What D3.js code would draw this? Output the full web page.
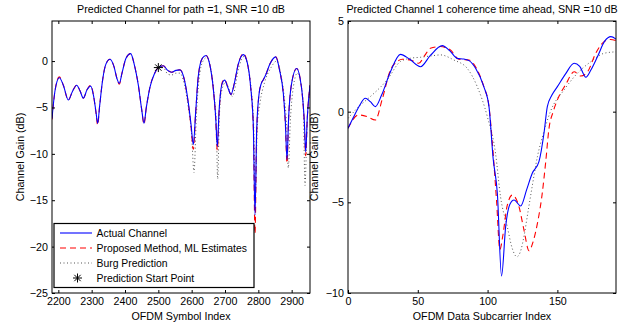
<!DOCTYPE html>
<html>
<head>
<meta charset="utf-8">
<script src="https://cdn.jsdelivr.net/npm/d3@7"></script>
<style>
  body { margin: 0; background: #fff; }
  svg { font-family: "Liberation Sans", Arial, sans-serif; }
  .tick text { font-size: 10.7px; fill: #000; }
  .tick line { stroke: #000; }
</style>
</head>
<body>
<svg id="chart" width="627" height="328"></svg>
<script>
// left panel: prediction along OFDM symbols
const leftX = [2181, 2190, 2203, 2215, 2230, 2242, 2255, 2265, 2275, 2286, 2297, 2306, 2313, 2318, 2324, 2333, 2343, 2355, 2367, 2376,
  2383, 2391, 2403, 2417, 2428, 2440, 2450, 2457, 2464, 2475, 2488, 2500, 2515, 2528, 2540, 2553, 2565, 2578, 2590, 2598,
  2605, 2612, 2620, 2632, 2643, 2655, 2665, 2672, 2677, 2682, 2688, 2694, 2699, 2709, 2718, 2728, 2740, 2755, 2767, 2777,
  2785, 2790, 2795, 2802, 2809, 2815, 2822, 2835, 2852, 2865, 2875, 2881, 2886, 2891, 2899, 2915, 2925, 2933, 2938, 2942,
  2947, 2955];
const leftActual = [-6.2, -3.2, -1.8, -2.6, -4.2, -3.3, -2.6, -3.2, -4.0, -3.1, -2.7, -3.8, -5.5, -6.7, -4.8, -2.0, -0.3, 0.2, -0.6, -1.9,
  -2.4, -1.3, 0.3, 0.8, -0.4, -2.6, -5.2, -6.7, -5.0, -2.8, -1.4, -0.7, -0.5, -1.0, -1.2, -1.0, -0.95, -2.0, -4.5, -6.8,
  -9.0, -5.5, -1.6, 0.3, 0.6, -0.5, -3.0, -6.0, -9.2, -5.5, -3.0, -2.2, -2.05, -2.9, -3.6, -2.4, -0.3, 0.7, -0.2, -2.8,
  -7.0, -16.6, -7.5, -3.6, -2.4, -2.0, -1.5, -0.3, 0.45, -1.2, -3.5, -6.5, -10.6, -6.0, -2.6, -0.8, -1.8, -4.0, -6.5, -9.8,
  -6.0, -2.6];
const leftProposed = [-6.3, -3.2, -1.7, -2.6, -4.2, -3.3, -2.6, -3.2, -4.0, -3.1, -2.6, -3.8, -5.6, -6.9, -4.8, -2.0, -0.3, 0.2, -0.6, -1.9,
  -2.5, -1.3, 0.3, 0.8, -0.4, -2.6, -5.2, -6.8, -5.0, -2.8, -1.4, -0.7, -0.5, -1.0, -1.2, -1.0, -0.95, -2.0, -4.6, -7.0,
  -9.5, -5.6, -1.6, 0.3, 0.6, -0.5, -3.0, -6.2, -9.6, -5.6, -3.0, -2.1, -2.0, -2.9, -3.6, -2.4, -0.3, 0.8, -0.2, -2.9,
  -7.3, -18.6, -7.8, -3.6, -2.4, -2.0, -1.5, -0.3, 0.45, -1.2, -3.6, -6.7, -11.0, -6.1, -2.6, -0.8, -1.8, -4.1, -6.7, -10.2,
  -6.1, -2.6];
const leftBurgX = [2500, 2515, 2528, 2540, 2553, 2565, 2578, 2590, 2600, 2607, 2614, 2622, 2634, 2646, 2657, 2667, 2674, 2678, 2683, 2690,
  2702, 2722, 2742, 2757, 2769, 2779, 2786, 2791, 2797, 2805, 2818, 2838, 2855, 2868, 2878, 2885, 2890, 2896, 2905, 2917,
  2928, 2935, 2940, 2946, 2955];
const leftBurg = [-0.7, -0.7, -1.4, -1.5, -1.3, -1.3, -2.5, -5.0, -8.0, -12.0, -6.0, -2.0, 0.0, 0.4, -0.8, -3.5, -7.0, -12.7, -6.0, -3.2,
  -2.3, -3.8, -0.6, 0.5, -0.6, -3.2, -7.0, -14.0, -7.0, -4.5, -2.4, -0.7, 0.0, -1.5, -4.0, -7.0, -11.5, -6.5, -2.8, -1.3,
  -2.5, -5.0, -13.4, -7.0, -3.0];
const startPoint = [2500, -0.7];
const leftXTicks = [2200, 2300, 2400, 2500, 2600, 2700, 2800, 2900];
const leftYTicks = [-25, -20, -15, -10, -5, 0];

// right panel: prediction across subcarriers
const rightActualX = [0, 4, 8, 12.4, 16, 19.6, 24, 30.4, 37.6, 44, 51.9, 59, 67.5, 73, 78.2, 83, 87, 91.4, 97.3, 101,
  104, 107, 110, 113, 116, 119, 123.7, 128, 132, 136.8, 140.4, 142.8, 146, 150, 156, 162, 166, 170.4, 174, 178.7,
  184, 188.3, 192];
const rightActual = [-0.92, -0.3, 0.3, 0.74, 0.55, 0.28, 0.9, 2.2, 3.16, 2.9, 2.48, 3.1, 3.64, 3.35, 2.94, 2.9, 2.8, 2.39, 1.38, 0.28,
  -2.6, -4.5, -9.06, -6.3, -5.1, -4.87, -5.2, -4.3, -3.4, -2.76, -1.19, 0.28, 0.9, 1.38, 2.1, 2.67, 2.5, 1.9, 2.3, 3.03,
  3.9, 4.14, 4.0];
const rightProposedX = [0, 7.6, 13.6, 19.6, 24.4, 30.4, 35, 38.8, 44.7, 50.7, 55, 59, 66, 73.4, 79.4, 86.6, 92.6, 97.3, 101, 104,
  106.5, 108.8, 111, 114, 117.7, 122.5, 126, 129.7, 132.5, 135.7, 139, 141.6, 144, 147, 150, 156, 162, 166.8, 171.6, 177.5,
  183.5, 188, 192];
const rightProposed = [-0.92, -0.18, -0.27, -0.46, 0.65, 2.3, 2.75, 2.89, 2.85, 2.67, 3.1, 3.5, 3.59, 3.4, 2.89, 2.85, 2.3, 1.38, 0.28, -2.3,
  -5.0, -7.6, -6.8, -5.2, -4.6, -5.24, -6.5, -7.67, -7.2, -6.16, -4.6, -2.8, -0.92, 0.0, 0.65, 1.5, 2.2, 1.97, 2.2, 3.22,
  3.86, 3.98, 3.92];
const rightBurgX = [0, 8, 16, 28, 37.5, 45, 51.9, 60, 66.3, 75.8, 85.4, 92.6, 99.8, 105.7, 109.3, 114.1, 117.5, 121, 124, 126,
  129, 132, 135.7, 140, 145, 154.8, 164.4, 174, 183.5, 192];
const rightBurg = [-0.37, 0.3, 0.83, 1.75, 2.76, 2.95, 3.0, 3.08, 3.13, 2.85, 2.39, 1.38, -0.27, -2.3, -4.7, -6.34, -7.5, -8.0, -7.6, -6.9,
  -5.5, -4.1, -2.48, -1.2, 0, 1.2, 2.12, 2.76, 3.22, 3.3];
const rightXTicks = [0, 50, 100, 150];
const rightYTicks = [-10, -5, 0, 5];

const legendLabels = ["Actual Channel", "Proposed Method, ML Estimates", "Burg Prediction", "Prediction Start Point"];

const svg = d3.select("#chart");

function zip(xs, ys) {
    return xs.map((x, i) => [x, ys[i]]);
}

function makePanel(opts) {
    const x = d3.scaleLinear().domain(opts.xDomain).range([opts.left, opts.right]);
    const y = d3.scaleLinear().domain(opts.yDomain).range([opts.bottom, opts.top]);
    const g = svg.append("g");

    g.append("clipPath").attr("id", opts.id + "-clip")
        .append("rect")
        .attr("x", opts.left).attr("y", opts.top)
        .attr("width", opts.right - opts.left).attr("height", opts.bottom - opts.top);

    const plot = g.append("g").attr("clip-path", "url(#" + opts.id + "-clip)");
    const line = d3.line().x(d => x(d[0])).y(d => y(d[1])).curve(d3.curveMonotoneX);

    plot.append("path").datum(opts.burg)
        .attr("d", line).attr("fill", "none")
        .attr("stroke", "#555").attr("stroke-width", 1).attr("stroke-dasharray", "1,2.5");
    plot.append("path").datum(opts.proposed)
        .attr("d", line).attr("fill", "none")
        .attr("stroke", "#ff0000").attr("stroke-width", 1.1).attr("stroke-dasharray", "6,4");
    plot.append("path").datum(opts.actual)
        .attr("d", line).attr("fill", "none")
        .attr("stroke", "#0000ff").attr("stroke-width", 1.1);

    // ticks inside the box on all four sides
    g.append("g").attr("transform", "translate(0," + opts.bottom + ")")
        .call(d3.axisBottom(x).tickValues(opts.xTicks).tickSizeInner(-3).tickSizeOuter(0).tickPadding(4)
            .tickFormat(d3.format("d")))
        .call(a => a.select(".domain").remove());
    g.append("g").attr("transform", "translate(0," + opts.top + ")")
        .call(d3.axisTop(x).tickValues(opts.xTicks).tickSizeInner(-3).tickSizeOuter(0).tickFormat(""))
        .call(a => a.select(".domain").remove());
    g.append("g").attr("transform", "translate(" + opts.left + ",0)")
        .call(d3.axisLeft(y).tickValues(opts.yTicks).tickSizeInner(-3).tickSizeOuter(0).tickPadding(4)
            .tickFormat(d => d < 0 ? "\u2212" + Math.abs(d) : d))
        .call(a => a.select(".domain").remove());
    g.append("g").attr("transform", "translate(" + opts.right + ",0)")
        .call(d3.axisRight(y).tickValues(opts.yTicks).tickSizeInner(-3).tickSizeOuter(0).tickFormat(""))
        .call(a => a.select(".domain").remove());

    g.append("rect")
        .attr("x", opts.left).attr("y", opts.top)
        .attr("width", opts.right - opts.left).attr("height", opts.bottom - opts.top)
        .attr("fill", "none").attr("stroke", "#000").attr("stroke-width", 1);

    const cx = (opts.left + opts.right) / 2;
    g.append("text").attr("x", cx).attr("y", 13)
        .attr("text-anchor", "middle").attr("font-size", 10.7).text(opts.title);
    g.append("text").attr("x", cx).attr("y", 320)
        .attr("text-anchor", "middle").attr("font-size", 10.7).text(opts.xLabel);
    g.append("text")
        .attr("transform", "translate(" + opts.yLabelX + "," + ((opts.top + opts.bottom) / 2) + ") rotate(-90)")
        .attr("text-anchor", "middle").attr("font-size", 10.7).text("Channel Gain (dB)");

    return {x, y, g};
}

function starPath(cx, cy, r) {
    const p = d3.path();
    for (let k = 0; k < 4; k++) {
        const a = k * Math.PI / 4;
        p.moveTo(cx - r * Math.cos(a), cy - r * Math.sin(a));
        p.lineTo(cx + r * Math.cos(a), cy + r * Math.sin(a));
    }
    return p.toString();
}

const leftPanel = makePanel({
    id: "left", left: 52, right: 310, top: 21, bottom: 293,
    xDomain: [2181, 2955], yDomain: [-25, 4.32],
    xTicks: leftXTicks, yTicks: leftYTicks,
    actual: zip(leftX, leftActual), proposed: zip(leftX, leftProposed), burg: zip(leftBurgX, leftBurg),
    title: "Predicted Channel for path =1, SNR =10 dB",
    xLabel: "OFDM Symbol Index", yLabelX: 24
});

leftPanel.g.append("path")
    .attr("d", starPath(leftPanel.x(startPoint[0]), leftPanel.y(startPoint[1]), 4.5))
    .attr("stroke", "#000").attr("stroke-width", 1).attr("fill", "none");

makePanel({
    id: "right", left: 348, right: 616, top: 21, bottom: 293,
    xDomain: [0, 192], yDomain: [-10, 5],
    xTicks: rightXTicks, yTicks: rightYTicks,
    actual: zip(rightActualX, rightActual), proposed: zip(rightProposedX, rightProposed), burg: zip(rightBurgX, rightBurg),
    title: "Predicted Channel 1 coherence time ahead, SNR =10 dB",
    xLabel: "OFDM Data Subcarrier Index", yLabelX: 318
});

// legend inside the left panel
const legend = svg.append("g");
legend.append("rect")
    .attr("x", 54).attr("y", 223.5).attr("width", 200).attr("height", 64)
    .attr("fill", "#fff").attr("stroke", "#000").attr("stroke-width", 1.2);
const rowY = d3.scalePoint().domain(legendLabels).range([233, 278]);
const styles = [
    {stroke: "#0000ff", dash: null},
    {stroke: "#ff0000", dash: "6,4"},
    {stroke: "#555", dash: "1,2.5"},
    null
];
legendLabels.forEach((label, i) => {
    const yy = rowY(label);
    if (styles[i]) {
        legend.append("line")
            .attr("x1", 60).attr("x2", 92).attr("y1", yy).attr("y2", yy)
            .attr("stroke", styles[i].stroke).attr("stroke-width", 1.1)
            .attr("stroke-dasharray", styles[i].dash);
    } else {
        legend.append("path").attr("d", starPath(77.5, yy, 4.5))
            .attr("stroke", "#000").attr("stroke-width", 1).attr("fill", "none");
    }
    legend.append("text").attr("x", 96.5).attr("y", yy + 4)
        .attr("font-size", 10.4).text(label);
});
</script>
</body>
</html>
